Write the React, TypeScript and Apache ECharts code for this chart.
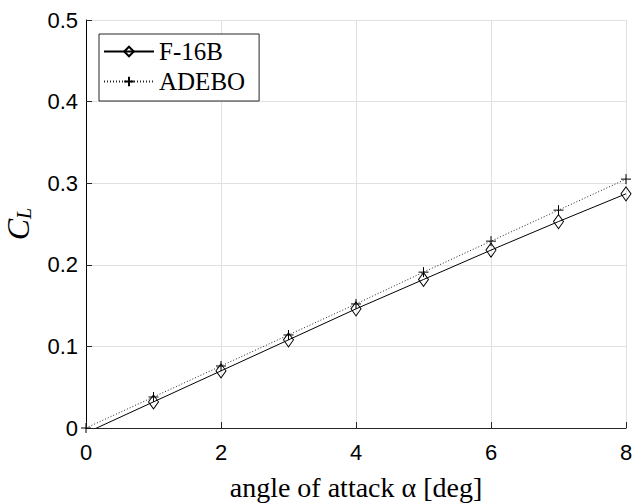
import React, { useEffect, useRef } from "react";
import * as echarts from "echarts";

const alpha = [0, 1, 2, 3, 4, 5, 6, 7, 8];
const f16b = [-0.006, 0.032, 0.07, 0.108, 0.146, 0.182, 0.218, 0.253, 0.287];
const adebo = [0, 0.038, 0.076, 0.114, 0.152, 0.191, 0.229, 0.267, 0.305];
const seriesNames = ["F-16B", "ADEBO"];

const PLUS = "path://M0,5 L10,5 M5,0 L5,10";
const SERIF = "Liberation Serif, Times New Roman, serif";

export default function App() {
  const ref = useRef<HTMLDivElement>(null);
  useEffect(() => {
    if (!ref.current) return;
    const chart = echarts.init(ref.current, undefined, { renderer: "svg" });
    const tickFont = { fontFamily: "Liberation Sans, Arial, sans-serif", fontSize: 22, color: "#000" };
    chart.setOption({
      animation: false,
      backgroundColor: "#fff",
      grid: { left: 86, right: 7, top: 20, bottom: 75, containLabel: false, outerBoundsMode: "none" },
      legend: {
        left: 99,
        top: 34,
        orient: "vertical",
        backgroundColor: "#fff",
        borderColor: "#262626",
        borderWidth: 1,
        borderRadius: 0,
        padding: [5, 14, 7, 4],
        itemGap: 5,
        itemWidth: 50,
        itemHeight: 12,
        textStyle: { fontFamily: SERIF, fontSize: 25, color: "#000" },
        data: seriesNames,
      },
      xAxis: {
        type: "value",
        min: 0,
        max: 8,
        interval: 2,
        name: "angle of attack α [deg]",
        nameLocation: "middle",
        nameGap: 45,
        nameTextStyle: { fontFamily: SERIF, fontSize: 28, color: "#000" },
        axisLine: { show: true, onZero: false, lineStyle: { color: "#262626", width: 1 } },
        axisTick: { show: true, inside: true, length: 6, lineStyle: { color: "#262626" } },
        axisLabel: { ...tickFont, margin: 13 },
        splitLine: { show: true, lineStyle: { color: "#e0e0e0", width: 1 } },
      },
      yAxis: {
        type: "value",
        min: 0,
        max: 0.5,
        interval: 0.1,
        name: "{c|C}{l|L}",
        nameLocation: "middle",
        nameRotate: 90,
        nameGap: 52,
        nameTextStyle: {
          rich: {
            c: { fontFamily: SERIF, fontStyle: "italic", fontSize: 32, color: "#000" },
            l: { fontFamily: SERIF, fontStyle: "italic", fontSize: 20, color: "#000", verticalAlign: "bottom", padding: [12, 0, 0, 0] },
          },
        },
        axisLine: { show: true, lineStyle: { color: "#000", width: 1 } },
        axisTick: { show: true, inside: true, length: 6, lineStyle: { color: "#262626" } },
        axisLabel: { ...tickFont, margin: 8, formatter: (v: number) => (v === 0 ? "0" : String(Math.round(v * 10) / 10)) },
        splitLine: { show: true, lineStyle: { color: "#e0e0e0", width: 1 } },
      },
      series: [
        {
          name: seriesNames[0],
          type: "line",
          data: alpha.map((a, i) => [a, f16b[i]]),
          clip: true,
          symbol: "diamond",
          symbolSize: [10, 14],
          showAllSymbol: true,
          color: "#000",
          lineStyle: { color: "#000", width: 1 },
          itemStyle: { color: "rgba(0,0,0,0)", borderColor: "#000", borderWidth: 1 },
          z: 3,
        },
        {
          name: seriesNames[1],
          type: "line",
          data: alpha.map((a, i) => [a, adebo[i]]),
          clip: true,
          symbol: PLUS,
          symbolSize: 10,
          showAllSymbol: true,
          color: "#000",
          lineStyle: { color: "#222", width: 1, type: [1, 2] },
          itemStyle: { color: "rgba(0,0,0,0)", borderColor: "#000", borderWidth: 1 },
          z: 2,
        },
      ],
    });
    return () => chart.dispose();
  }, []);
  return <div ref={ref} style={{ width: 633, height: 503, position: "absolute", left: 0, top: 0 }} />;
}
